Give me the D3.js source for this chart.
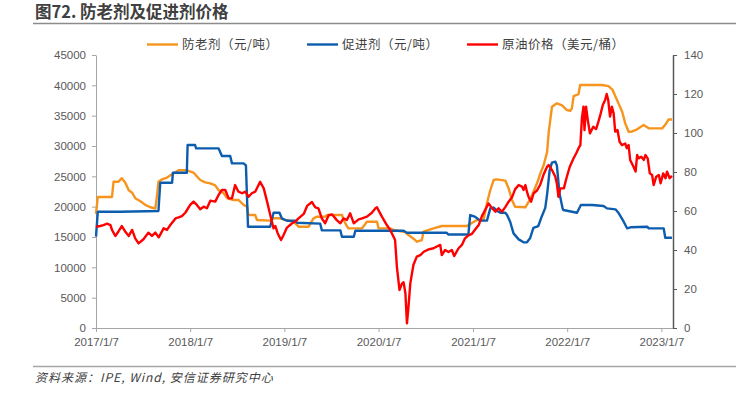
<!DOCTYPE html>
<html>
<head>
<meta charset="utf-8">
<script src="https://cdn.jsdelivr.net/npm/d3@7"></script>
<style>
body { margin: 0; background: #fff; }
svg { display: block; }
</style>
</head>
<body>
<svg id="chart" width="736" height="393"></svg>
<script>
// 防老剂 price (元/吨), left axis
const antioxidant = [
  ["2017-01-07", 18800], ["2017-01-14", 21600], ["2017-03-10", 21600], ["2017-03-16", 24100],
  ["2017-04-04", 24100], ["2017-04-17", 24700], ["2017-04-30", 24000], ["2017-05-14", 22700],
  ["2017-05-27", 22300], ["2017-06-08", 21400], ["2017-06-28", 20900], ["2017-07-17", 20300],
  ["2017-08-06", 19900], ["2017-08-25", 19700], ["2017-09-01", 22000], ["2017-09-06", 24100],
  ["2017-09-20", 24500], ["2017-10-09", 24800], ["2017-11-04", 25500], ["2017-11-23", 26000],
  ["2017-12-25", 26000], ["2018-01-20", 25600], ["2018-02-15", 24400], ["2018-03-06", 24000],
  ["2018-03-26", 23850], ["2018-04-14", 23500], ["2018-04-27", 22700], ["2018-05-17", 22200],
  ["2018-05-30", 21400], ["2018-06-24", 21100], ["2018-07-13", 21100], ["2018-08-02", 20300],
  ["2018-08-16", 19990], ["2018-08-20", 18620], ["2018-09-16", 18620], ["2018-09-23", 17800],
  ["2018-11-13", 17700], ["2018-11-26", 18080], ["2018-12-22", 18080], ["2019-01-11", 17800],
  ["2019-02-12", 17520], ["2019-03-03", 16700], ["2019-04-11", 16700], ["2019-04-30", 18080],
  ["2019-05-13", 18350], ["2019-06-14", 18350], ["2019-06-21", 18620], ["2019-08-18", 18620],
  ["2019-08-31", 17250], ["2019-09-12", 16430], ["2019-11-04", 16430], ["2019-11-23", 17520],
  ["2020-01-01", 17520], ["2020-01-07", 16430], ["2020-02-21", 16430], ["2020-03-05", 16150],
  ["2020-04-19", 15800], ["2020-05-02", 15330], ["2020-05-28", 14500], ["2020-06-03", 14220],
  ["2020-06-23", 14500], ["2020-06-29", 15870], ["2020-08-07", 16430], ["2020-09-08", 16810],
  ["2020-12-14", 16810], ["2021-01-22", 17800], ["2021-02-17", 17800], ["2021-03-02", 20550],
  ["2021-03-15", 22740], ["2021-03-28", 24390], ["2021-04-10", 24500], ["2021-05-12", 24300],
  ["2021-05-25", 23020], ["2021-06-07", 21100], ["2021-06-19", 19990], ["2021-07-29", 19900],
  ["2021-08-11", 20820], ["2021-08-24", 21920], ["2021-09-12", 23850], ["2021-09-25", 25500],
  ["2021-10-08", 26860], ["2021-10-21", 29000], ["2021-10-28", 32500], ["2021-11-09", 36470],
  ["2021-11-28", 37030], ["2021-12-18", 36700], ["2022-01-06", 35930], ["2022-01-19", 35800],
  ["2022-01-25", 36200], ["2022-02-01", 38230], ["2022-02-20", 38560], ["2022-02-26", 40050],
  ["2022-05-22", 40050], ["2022-06-16", 39880], ["2022-07-01", 39300], ["2022-07-19", 37570],
  ["2022-08-08", 35650], ["2022-08-20", 33730], ["2022-09-02", 32350], ["2022-09-16", 32400],
  ["2022-09-28", 32600], ["2022-10-11", 32910], ["2022-10-30", 33450], ["2022-11-19", 32910],
  ["2023-01-10", 32910], ["2023-01-22", 33500], ["2023-02-04", 34380], ["2023-02-17", 34380]
]

// 促进剂 price (元/吨), left axis
const accelerator = [
  ["2017-01-07", 15050], ["2017-01-14", 19170], ["2017-04-11", 19170], ["2017-09-06", 19280],
  ["2017-09-13", 23950], ["2017-10-29", 23950], ["2017-11-01", 25600], ["2017-12-25", 25600],
  ["2017-12-28", 30160], ["2018-01-26", 30160], ["2018-01-30", 29610], ["2018-04-27", 29610],
  ["2018-05-10", 28350], ["2018-06-11", 28350], ["2018-06-18", 27140], ["2018-08-02", 27140],
  ["2018-08-11", 26800], ["2018-08-19", 16700], ["2018-11-13", 16700], ["2018-11-26", 19000],
  ["2018-12-19", 19000], ["2018-12-28", 18080], ["2019-01-17", 17680], ["2019-02-18", 17680],
  ["2019-02-25", 17350], ["2019-05-26", 17200], ["2019-06-01", 16100], ["2019-08-12", 16100],
  ["2019-08-18", 15050], ["2019-10-03", 15050], ["2019-10-09", 16040], ["2020-04-13", 16040],
  ["2020-04-26", 15710], ["2020-09-27", 15710], ["2020-10-03", 15400], ["2020-12-20", 15400],
  ["2020-12-27", 18620], ["2021-01-16", 18300], ["2021-02-04", 17700], ["2021-03-02", 17700],
  ["2021-03-15", 19720], ["2021-03-28", 19850], ["2021-04-11", 19300], ["2021-04-23", 19000],
  ["2021-05-12", 19000], ["2021-05-19", 18620], ["2021-05-31", 17520], ["2021-06-13", 15600],
  ["2021-07-03", 14610], ["2021-07-22", 14120], ["2021-08-04", 14120], ["2021-08-16", 14780],
  ["2021-08-29", 16500], ["2021-09-17", 16810], ["2021-09-30", 18350], ["2021-10-14", 19800],
  ["2021-10-21", 22000], ["2021-10-31", 26000], ["2021-11-09", 27250], ["2021-11-22", 27420],
  ["2021-11-28", 26800], ["2021-12-08", 22200], ["2021-12-20", 19720], ["2021-12-23", 19450],
  ["2022-02-14", 19000], ["2022-03-01", 20270], ["2022-04-14", 20270], ["2022-05-28", 20110],
  ["2022-06-10", 19720], ["2022-07-13", 19560], ["2022-07-26", 18900], ["2022-08-14", 17520],
  ["2022-08-27", 16430], ["2022-09-09", 16600], ["2022-11-13", 16700], ["2022-11-19", 16430],
  ["2023-01-16", 16430], ["2023-01-22", 14880], ["2023-02-17", 14880]
]

// 原油价格 (美元/桶), right axis
const crudeOil = [
  ["2017-01-07", 51.9], ["2017-01-23", 52.3], ["2017-02-05", 52.8], ["2017-02-19", 53.5],
  ["2017-03-04", 52.8], ["2017-03-10", 50.3], ["2017-03-23", 47.2], ["2017-04-04", 49.5],
  ["2017-04-17", 52.3], ["2017-04-30", 49.5], ["2017-05-14", 47.2], ["2017-05-27", 50.3],
  ["2017-06-08", 46.0], ["2017-06-21", 43.4], ["2017-07-10", 45.5], ["2017-07-29", 48.9],
  ["2017-08-12", 47.2], ["2017-08-25", 48.9], ["2017-09-07", 46.5], ["2017-09-26", 51.1],
  ["2017-10-09", 50.3], ["2017-10-22", 52.8], ["2017-11-11", 56.2], ["2017-11-23", 56.7],
  ["2017-12-06", 57.4], ["2017-12-19", 59.1], ["2018-01-07", 63.1], ["2018-01-20", 64.8],
  ["2018-02-02", 63.1], ["2018-02-15", 60.9], ["2018-02-28", 62.2], ["2018-03-13", 61.4],
  ["2018-03-26", 65.3], ["2018-04-14", 64.8], ["2018-04-27", 68.2], ["2018-05-10", 70.8],
  ["2018-05-23", 70.8], ["2018-06-05", 66.5], ["2018-06-18", 66.5], ["2018-06-30", 73.3],
  ["2018-07-13", 69.9], ["2018-07-27", 69.1], ["2018-08-09", 69.9], ["2018-08-21", 67.3],
  ["2018-09-03", 69.1], ["2018-09-16", 69.9], ["2018-10-05", 75.0], ["2018-10-19", 71.6],
  ["2018-11-01", 64.8], ["2018-11-14", 57.6], ["2018-11-26", 51.1], ["2018-12-03", 52.3],
  ["2018-12-12", 48.6], ["2018-12-25", 45.1], ["2019-01-04", 47.7], ["2019-01-17", 51.5],
  ["2019-02-06", 53.7], ["2019-02-18", 54.5], ["2019-03-03", 56.2], ["2019-03-23", 58.5],
  ["2019-04-05", 62.6], ["2019-04-24", 64.6], ["2019-05-07", 61.9], ["2019-05-19", 61.4],
  ["2019-06-01", 56.2], ["2019-06-14", 53.7], ["2019-06-28", 57.9], ["2019-07-11", 58.2],
  ["2019-07-30", 55.2], ["2019-08-12", 53.7], ["2019-08-24", 56.2], ["2019-09-06", 55.4],
  ["2019-09-19", 58.8], ["2019-10-03", 53.7], ["2019-10-22", 55.7], ["2019-11-04", 56.2],
  ["2019-11-23", 57.1], ["2019-12-12", 59.1], ["2019-12-26", 61.4], ["2020-01-01", 61.9],
  ["2020-01-07", 60.3], ["2020-01-20", 57.1], ["2020-02-08", 52.8], ["2020-02-21", 50.3],
  ["2020-03-05", 46.8], ["2020-03-11", 45.1], ["2020-03-18", 31.4], ["2020-03-28", 19.5],
  ["2020-04-07", 22.9], ["2020-04-13", 23.5], ["2020-04-20", 17.8], ["2020-04-26", 2.4],
  ["2020-05-02", 10.9], ["2020-05-09", 22.9], ["2020-05-21", 32.3], ["2020-06-03", 36.6],
  ["2020-06-17", 37.4], ["2020-06-30", 39.1], ["2020-07-19", 40.3], ["2020-08-07", 40.9],
  ["2020-08-20", 41.8], ["2020-09-02", 42.6], ["2020-09-08", 37.4], ["2020-09-21", 40.0],
  ["2020-10-04", 39.0], ["2020-10-17", 40.0], ["2020-10-26", 36.9], ["2020-11-12", 40.9],
  ["2020-11-25", 42.6], ["2020-12-07", 46.0], ["2020-12-20", 47.5], ["2021-01-03", 48.3],
  ["2021-01-16", 50.6], ["2021-01-29", 52.8], ["2021-02-11", 57.5], ["2021-02-24", 60.8],
  ["2021-03-08", 63.9], ["2021-03-22", 61.4], ["2021-04-04", 59.6], ["2021-04-16", 61.4],
  ["2021-04-29", 59.6], ["2021-05-12", 62.0], ["2021-05-25", 64.8], ["2021-06-07", 67.0],
  ["2021-06-19", 71.1], ["2021-07-03", 73.3], ["2021-07-16", 72.5], ["2021-07-22", 70.8],
  ["2021-07-29", 73.3], ["2021-08-04", 69.9], ["2021-08-10", 67.3], ["2021-08-20", 64.8],
  ["2021-08-30", 69.1], ["2021-09-12", 70.5], ["2021-09-25", 73.6], ["2021-10-08", 78.9],
  ["2021-10-21", 82.7], ["2021-10-27", 83.6], ["2021-11-09", 81.0], ["2021-11-22", 77.6],
  ["2021-11-28", 74.0], ["2021-12-04", 67.3], ["2021-12-11", 71.6], ["2021-12-25", 71.6],
  ["2022-01-04", 76.8], ["2022-01-17", 82.7], ["2022-01-30", 86.5], ["2022-02-11", 89.6],
  ["2022-02-20", 92.2], ["2022-02-27", 93.8], ["2022-03-05", 107.5], ["2022-03-11", 113.5],
  ["2022-03-15", 101.5], ["2022-03-21", 113.5], ["2022-03-28", 106.5], ["2022-04-05", 99.8],
  ["2022-04-18", 103.2], ["2022-04-29", 102.0], ["2022-05-08", 105.8], ["2022-05-17", 110.1],
  ["2022-05-25", 114.4], ["2022-06-03", 116.9], ["2022-06-09", 120.0], ["2022-06-15", 116.9],
  ["2022-06-22", 108.4], ["2022-06-29", 113.5], ["2022-07-06", 110.1], ["2022-07-12", 100.7],
  ["2022-07-21", 101.5], ["2022-07-29", 95.5], ["2022-08-07", 93.8], ["2022-08-20", 94.6],
  ["2022-08-26", 92.2], ["2022-09-02", 93.8], ["2022-09-08", 86.2], ["2022-09-21", 82.7],
  ["2022-09-29", 80.2], ["2022-10-05", 88.7], ["2022-10-11", 87.0], ["2022-10-21", 87.8],
  ["2022-10-31", 86.2], ["2022-11-06", 88.7], ["2022-11-15", 87.0], ["2022-11-23", 79.3],
  ["2022-12-02", 78.5], ["2022-12-08", 73.3], ["2022-12-18", 77.6], ["2022-12-28", 78.5],
  ["2023-01-04", 74.2], ["2023-01-14", 79.3], ["2023-01-23", 76.8], ["2023-01-29", 80.2],
  ["2023-02-08", 76.8], ["2023-02-17", 78.0]
]

const leftTicks = [0, 5000, 10000, 15000, 20000, 25000, 30000, 35000, 40000, 45000]
const rightTicks = [0, 20, 40, 60, 80, 100, 120, 140]
const xTickLabels = ["2017/1/7", "2018/1/7", "2019/1/7", "2020/1/7", "2021/1/7", "2022/1/7", "2023/1/7"]
const legendNames = ["防老剂（元/吨）", "促进剂（元/吨）", "原油价格（美元/桶）"]

const SVG = d3.select("#chart")
const Margin = { top: 55, bottom: 65, left: 96, right: 63 }
const Width = 736
const Height = 393
const parse = d3.timeParse("%Y-%m-%d")
const tickParse = d3.timeParse("%Y/%m/%d")
const colors = ["#F7941D", "#0C5DAE", "#FF0000"]
const font = "'Liberation Sans', Arial, sans-serif"
const cjk = "'Noto Sans CJK SC', sans-serif"

const xscale = d3.scaleTime()
    .domain([parse("2017-01-07"), parse("2023-02-21")])
    .range([Margin.left, Width - Margin.right])

const yleft = d3.scaleLinear()
    .domain([0, 45000])
    .range([Height - Margin.bottom, Margin.top])

const yright = d3.scaleLinear()
    .domain([0, 140])
    .range([Height - Margin.bottom, Margin.top])

// title
SVG.append("text")
    .text("图72. 防老剂及促进剂价格")
    .attr("x", 35).attr("y", 18)
    .style("font-family", cjk)
    .style("font-size", "16.5px")
    .style("font-weight", 700)
    .style("fill", "#404040")

SVG.append("line")
    .attr("x1", 33).attr("x2", 736).attr("y1", 23.5).attr("y2", 23.5)
    .style("stroke", "#8c8c8c").style("stroke-width", 1.5)

// axes
const left = d3.axisLeft(yleft).tickValues(leftTicks).tickFormat(d3.format("d"))
    .tickSizeInner(4).tickSizeOuter(0).tickPadding(6)
const right = d3.axisRight(yright).tickValues(rightTicks).tickFormat(d3.format("d"))
    .tickSizeInner(4).tickSizeOuter(0).tickPadding(7)
const bottom = d3.axisBottom(xscale)
    .tickValues(xTickLabels.map(tickParse))
    .tickFormat(d => d3.timeFormat("%Y/%-m/%-d")(d))
    .tickSizeInner(4).tickSizeOuter(0).tickPadding(6)

const gl = SVG.append("g")
    .attr("transform", `translate(${Margin.left}, 0)`)
    .call(left)
gl.select(".domain").style("stroke", "#a6a6a6")
gl.selectAll(".tick line").style("stroke", "#a6a6a6")

const gb = SVG.append("g")
    .attr("transform", `translate(0, ${Height - Margin.bottom})`)
    .call(bottom)
gb.select(".domain").style("stroke", "#a6a6a6")
gb.selectAll(".tick line").style("stroke", "#a6a6a6")

const gr = SVG.append("g")
    .attr("transform", `translate(${Width - Margin.right}, 0)`)
    .call(right)
gr.select(".domain").style("stroke", "#595959").style("stroke-width", 1.5)
gr.selectAll(".tick line").style("stroke", "#595959")

SVG.selectAll(".tick text")
    .style("font-family", font)
    .style("font-size", "11.5px")
    .style("fill", "#595959")

// lines
const lineLeft = d3.line()
    .x(d => xscale(parse(d[0])))
    .y(d => yleft(d[1]))

const lineRight = d3.line()
    .x(d => xscale(parse(d[0])))
    .y(d => yright(d[1]))

SVG.append("path")
    .attr("d", lineLeft(antioxidant))
    .style("fill", "none").style("stroke", colors[0]).style("stroke-width", 2.4)
    .style("stroke-linejoin", "round")

SVG.append("path")
    .attr("d", lineLeft(accelerator))
    .style("fill", "none").style("stroke", colors[1]).style("stroke-width", 2.4)
    .style("stroke-linejoin", "round")

SVG.append("path")
    .attr("d", lineRight(crudeOil))
    .style("fill", "none").style("stroke", colors[2]).style("stroke-width", 2.4)
    .style("stroke-linejoin", "round")

// legend
const legendX = [147, 307, 467]
for (var i = 0; i < 3; i++) {
    SVG.append("line")
        .attr("x1", legendX[i]).attr("x2", legendX[i] + 31)
        .attr("y1", 44.5).attr("y2", 44.5)
        .style("stroke", colors[i]).style("stroke-width", 2.4)

    SVG.append("text")
        .text(legendNames[i])
        .attr("x", legendX[i] + 35).attr("y", 49)
        .style("font-family", cjk)
        .style("font-size", "12.5px")
        .style("letter-spacing", "0.5px")
        .style("fill", "#404040")
}

// footer
SVG.append("line")
    .attr("x1", 33).attr("x2", 736).attr("y1", 366.5).attr("y2", 366.5)
    .style("stroke", "#a6a6a6").style("stroke-width", 1.5)

SVG.append("text")
    .text("资料来源：IPE, Wind, 安信证券研究中心")
    .attr("x", 35).attr("y", 382)
    .style("font-family", cjk)
    .style("font-size", "12px")
    .style("font-style", "italic")
    .style("letter-spacing", "1px")
    .style("fill", "#404040")
</script>
</body>
</html>
